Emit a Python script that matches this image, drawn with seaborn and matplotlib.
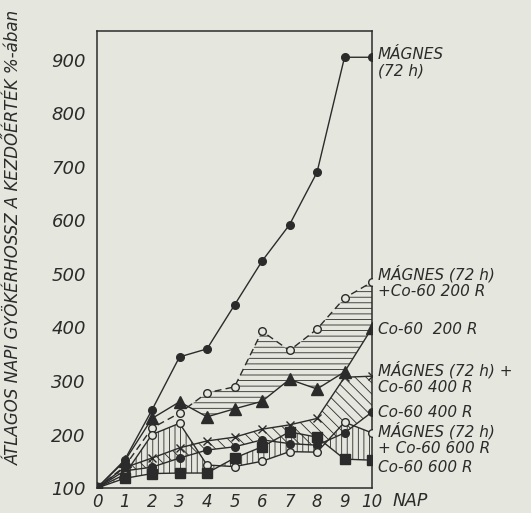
import numpy as np
import pandas as pd
import matplotlib
matplotlib.use("Agg")
import matplotlib.pyplot as plt
import seaborn as sns

# 数据
days = list(range(11))
magnes = [100, 152, 246, 345, 360, 442, 524, 592, 690, 905, 905]
magnes_200 = [100, 140, 212, 240, 278, 289, 393, 357, 397, 455, 485]
co_200 = [100, 150, 230, 261, 233, 248, 262, 303, 285, 317, 399]
magnes_400 = [100, 138, 156, 175, 188, 195, 210, 218, 230, 307, 309]
co_400 = [100, 132, 139, 156, 171, 177, 190, 183, 180, 203, 242]
magnes_600 = [100, 125, 200, 221, 143, 140, 150, 168, 167, 223, 203]
co_600 = [100, 118, 127, 128, 128, 156, 177, 205, 195, 154, 152]

y_ticks = [100, 200, 300, 400, 500, 600, 700, 800, 900]
series_labels = [
    ("MÁGNES\n(72 h)", 895),
    ("MÁGNES (72 h)\n+Co-60 200 R", 485),
    ("Co-60  200 R", 397),
    ("MÁGNES (72 h) +\nCo-60 400 R", 306),
    ("Co-60 400 R", 242),
    ("MÁGNES (72 h)\n+ Co-60 600 R", 192),
    ("Co-60 600 R", 139),
]
y_title = "ÁTLAGOS NAPI GYÖKÉRHOSSZ A KEZDŐÉRTÉK %-ában"

bg = "#e5e6dd"
ink = "#2b2b2b"

sns.set_theme(style="white")
plt.rcParams["font.family"] = ["DejaVu Sans"]
plt.rcParams["font.style"] = "italic"
plt.rcParams["hatch.linewidth"] = 0.6
plt.rcParams["hatch.color"] = ink

fig = plt.figure(figsize=(5.31, 5.13), dpi=100, facecolor=bg)
ax = fig.add_axes([0.1827, 0.0487, 0.5179, 0.8908], facecolor=bg)

# 阴影区域
ax.fill_between(days, magnes_200, co_200, where=np.array(magnes_200) >= np.array(co_200),
                interpolate=True, facecolor="none", edgecolor=ink, hatch="---", linewidth=0)
ax.fill_between(days, magnes_400, co_400, facecolor="none", edgecolor=ink,
                hatch="\\\\\\", linewidth=0)
ax.fill_between(days, magnes_600, co_600, facecolor="none", edgecolor=ink,
                hatch="|||", linewidth=0)

def draw(vals, marker, ms, filled=True, ls="-"):
    df = pd.DataFrame({"nap": days, "ertek": vals})
    sns.lineplot(data=df, x="nap", y="ertek", ax=ax, color=ink, linewidth=1.0,
                 linestyle=ls, marker=marker, markersize=ms,
                 markerfacecolor=ink if filled else bg, markeredgecolor=ink,
                 markeredgewidth=1.0, zorder=3)

draw(magnes, "o", 5.5)
draw(magnes_200, "o", 5.5, filled=False, ls=(0, (5, 3)))
draw(co_200, "^", 9)
draw(magnes_400, "x", 6)
draw(co_400, "o", 5.5)
draw(magnes_600, "o", 5.5, filled=False)
draw(co_600, "s", 7)

ax.set_xlim(0, 10)
ax.set_ylim(100, 954)
ax.set_xticks(days)
ax.set_xticklabels([str(d) for d in days], fontsize=12, color=ink)
ax.set_yticks(y_ticks)
ax.set_yticklabels([str(v) for v in y_ticks], fontsize=13, color=ink)
ax.tick_params(axis="y", direction="out", length=5, width=1, color=ink, pad=3)
ax.tick_params(axis="x", direction="inout", length=4, width=1, color=ink, pad=1.5)
ax.set_xlabel("")
ax.set_ylabel("")
for s in ax.spines.values():
    s.set_color(ink)
    s.set_linewidth(1.1)

ax.text(10.73, -0.008, "NAP", transform=ax.get_xaxis_transform(), ha="left", va="top",
        fontsize=12.5, color=ink)

for txt, yv in series_labels:
    ax.text(10.22, yv, txt, ha="left", va="center", fontsize=11, color=ink,
            linespacing=1.1, clip_on=False)

fig.text(0.026, 0.538, y_title, rotation=90, ha="center", va="center", fontsize=12, color=ink)

plt.savefig("out.png", dpi=100, facecolor=bg)
